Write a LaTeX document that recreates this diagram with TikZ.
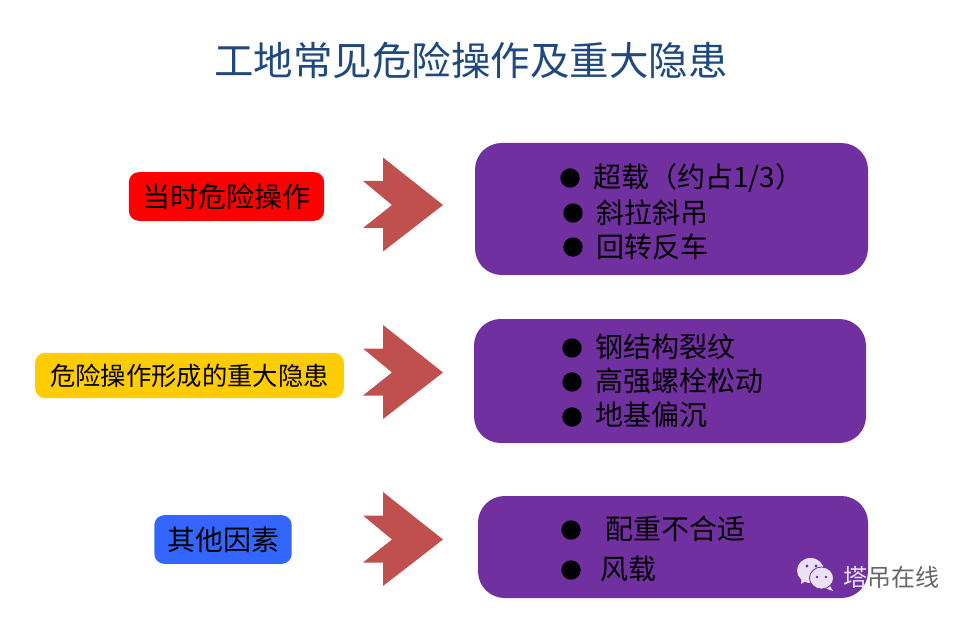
\documentclass[tikz,border=0pt]{standalone}
\usepackage{fontspec}
\setmainfont{Noto Sans CJK SC}
\definecolor{titleblue}{RGB}{31,73,125}
\definecolor{panel}{RGB}{112,48,160}
\definecolor{arrowred}{RGB}{192,80,77}
\definecolor{lblred}{RGB}{255,0,0}
\definecolor{lblyellow}{RGB}{255,204,0}
\definecolor{lblblue}{RGB}{51,102,255}
\definecolor{wechat}{RGB}{235,225,245}
\tikzset{
  x=0.75pt,y=-0.75pt,
  lbl/.style={rounded corners=7.5pt,inner sep=0pt,font=\fontsize{21pt}{24pt}\selectfont,text=black,anchor=center},
  panelbox/.style={fill=panel,rounded corners=20pt},
  arrowshape/.style={fill=arrowred,draw=none},
  itemtext/.style={anchor=west,inner sep=0pt,font=\fontsize{21pt}{24pt}\selectfont,text=black},
  dotmark/.style={circle,fill=black,inner sep=0pt,minimum size=14.5pt},
  bubble/.style={fill=wechat,draw=panel,line width=0.6pt},
}
\newcommand{\chevron}[1]{\fill[arrowshape,shift={(0,#1)}] (363,-24) -- (383,-24) -- (383,-47.5) -- (443,0) -- (383,46.5) -- (383,23) -- (363,23) -- (392,0) -- cycle;}
\begin{document}
\begin{tikzpicture}
\useasboundingbox (0,0) rectangle (970,620);
\fill[white] (0,0) rectangle (970,620);
\node[inner sep=0pt,text=titleblue,font=\fontsize{29.6pt}{34pt}\selectfont] (title) at (471,60) {工地常见危险操作及重大隐患};

\node[lbl,fill=lblred,minimum width=146.5pt,minimum height=36.5pt] (a) at (226.5,196.5) {当时危险操作};
\node[lbl,fill=lblyellow,minimum width=231.5pt,minimum height=34pt,font=\fontsize{19pt}{24pt}\selectfont] (b) at (189.5,375.5) {危险操作形成的重大隐患};
\node[lbl,fill=lblblue,minimum width=103pt,minimum height=36.5pt] (c) at (223,539.5) {其他因素};

\chevron{205}
\chevron{372.5}
\chevron{539.5}

\fill[panelbox] (475,143) rectangle (868,275);
\fill[panelbox] (474,319) rectangle (866,443);
\fill[panelbox] (478,496) rectangle (868,598);

\node[dotmark] (d1) at (570,178) {};
\node[itemtext] (t1) at (593,178) {超载（约占1/3）};
\node[dotmark] (d2) at (573,213) {};
\node[itemtext] (t2) at (596.5,213) {斜拉斜吊};
\node[dotmark] (d3) at (573,247) {};
\node[itemtext] (t3) at (596.5,247) {回转反车};

\node[dotmark] (d4) at (572,348) {};
\node[itemtext] (t4) at (595.5,347) {钢结构裂纹};
\node[dotmark] (d5) at (572,382) {};
\node[itemtext] (t5) at (595.5,381) {高强螺栓松动};
\node[dotmark] (d6) at (572,417) {};
\node[itemtext] (t6) at (595.5,415) {地基偏沉};

\node[dotmark] (d7) at (571,530) {};
\node[itemtext] (t7) at (605.5,529) {配重不合适};
\node[dotmark] (d8) at (571,570) {};
\node[itemtext] (t8) at (600.5,569) {风载};

% watermark
\fill[wechat] (802,576) -- (801,584) -- (809,579) -- cycle;
\fill[wechat] (830,586) -- (833,591) -- (824,588) -- cycle;
\fill[wechat] (810.5,570.5) ellipse (13.5 and 12.5);
\fill[panel] (807,566) circle (1.6);
\fill[panel] (816,566) circle (1.6);
\draw[bubble] (821.5,578) ellipse (12 and 11);
\fill[panel] (817,577) circle (1.4);
\fill[panel] (826,577) circle (1.4);
\node[inner sep=0pt,text=wechat,font=\fontsize{18pt}{20pt}\selectfont,anchor=west] (wm) at (843,577) {塔\textcolor{black!60}{吊在线}};
\end{tikzpicture}
\end{document}
